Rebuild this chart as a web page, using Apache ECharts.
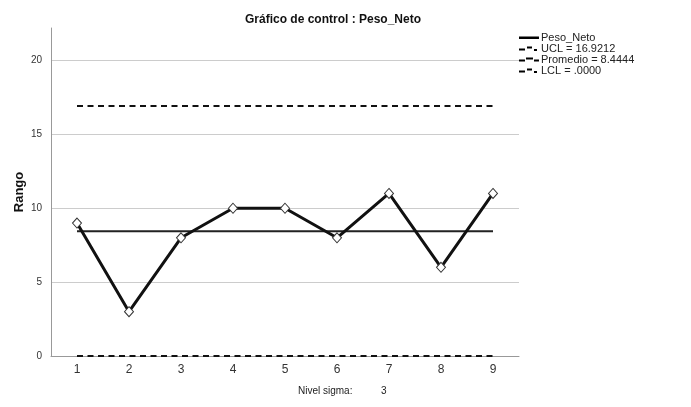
<!DOCTYPE html>
<html>
<head>
<meta charset="utf-8">
<script src="https://cdn.jsdelivr.net/npm/echarts@6/dist/echarts.min.js"></script>
<style>
  html, body { margin: 0; padding: 0; background: #fff; }
  #chart { width: 691px; height: 407px; }
</style>
</head>
<body>
<div id="chart"></div>
<script>
// subgroups and their range values
const categories = ['1', '2', '3', '4', '5', '6', '7', '8', '9']
const rango = [9, 3, 8, 10, 10, 8, 11, 6, 11]

// control limits
const UCL = 16.9212
const PROMEDIO = 8.4444
const LCL = 0

const yTicks = [0, 5, 10, 15, 20]
const sigmaLevel = 3

const font = 'Liberation Sans, Arial, sans-serif'
const flat = (v) => categories.map(() => v)

// small legend icons, padded with tiny corner dots so the box keeps its size
const pad = 'M0,0h0.01v0.01h-0.01z M20,10h0.01v0.01h-0.01z '
const iconSolid = 'path://' + pad + 'M0,4h20v2.4h-20z'
const iconDash = 'path://' + pad + 'M0,5h6v2h-6z M8,3h5v2h-5z M15,5.5h3v2h-3z'
const iconDashLong = 'path://' + pad + 'M0,5h6v2h-6z M7,3h7v2h-7z M15,5h5v2h-5z'

const chart = echarts.init(document.getElementById('chart'))

const option = {
    animation: false,
    backgroundColor: '#fff',
    title: {
        text: 'Gráfico de control : Peso_Neto',
        left: 328,
        textAlign: 'center',
        top: 9,
        textStyle: { fontFamily: font, fontSize: 12, fontWeight: 'bold', color: '#111' },
    },
    legend: {
        orient: 'vertical',
        left: 519,
        top: 32,
        padding: 0,
        itemWidth: 20,
        itemHeight: 10,
        itemGap: 0,
        textStyle: { fontFamily: font, fontSize: 11, color: '#222', lineHeight: 10, padding: [0, 0, 0, -3] },
        data: [
            { name: 'Peso_Neto', icon: iconSolid, itemStyle: { color: '#000', borderWidth: 0 } },
            { name: 'UCL = 16.9212', icon: iconDash, itemStyle: { color: '#000', borderWidth: 0 } },
            { name: 'Promedio = 8.4444', icon: iconDashLong, itemStyle: { color: '#000', borderWidth: 0 } },
            { name: 'LCL = .0000', icon: iconDash, itemStyle: { color: '#000', borderWidth: 0 } },
        ],
    },
    grid: { left: 51, right: 172, top: 28, bottom: 51 },
    xAxis: {
        type: 'category',
        data: categories,
        boundaryGap: true,
        axisLine: { lineStyle: { color: '#999', width: 1 } },
        axisTick: { show: false },
        axisLabel: { fontFamily: font, fontSize: 12, color: '#333', margin: 8 },
        splitLine: { show: false },
    },
    yAxis: {
        type: 'value',
        min: yTicks[0],
        max: 22.2,
        interval: 5,
        name: 'Rango',
        nameLocation: 'middle',
        nameGap: 25,
        nameMoveOverlap: false,
        nameTextStyle: { fontFamily: font, fontSize: 13, fontWeight: 'bold', color: '#111' },
        axisLine: { show: true, lineStyle: { color: '#999', width: 1 } },
        axisTick: { show: false },
        axisLabel: { fontFamily: font, fontSize: 10, color: '#333', margin: 9, showMaxLabel: false },
        splitLine: {
            lineStyle: { color: ['#999', '#ccc', '#ccc', '#ccc', '#ccc', 'transparent'], width: 1 },
        },
    },
    graphic: [
        {
            type: 'text',
            left: 298,
            top: 386,
            style: { text: 'Nivel sigma:', font: '10px ' + font, fill: '#222' },
        },
        {
            type: 'text',
            left: 381,
            top: 386,
            style: { text: String(sigmaLevel), font: '10px ' + font, fill: '#222' },
        },
    ],
    series: [
        {
            name: 'LCL = .0000',
            type: 'line',
            data: flat(LCL),
            symbol: 'none',
            lineStyle: { color: '#111', width: 2, type: [6, 4.5] },
            itemStyle: { color: '#111' },
            z: 3,
        },
        {
            name: 'UCL = 16.9212',
            type: 'line',
            data: flat(UCL),
            symbol: 'none',
            lineStyle: { color: '#111', width: 2, type: [6, 4.5] },
            itemStyle: { color: '#111' },
            z: 3,
        },
        {
            name: 'Promedio = 8.4444',
            type: 'line',
            data: flat(PROMEDIO),
            symbol: 'none',
            lineStyle: { color: '#222', width: 2 },
            itemStyle: { color: '#222' },
            z: 3,
        },
        {
            name: 'Peso_Neto',
            type: 'line',
            data: rango,
            symbol: 'diamond',
            symbolSize: [9, 10],
            showAllSymbol: true,
            lineStyle: { color: '#111', width: 3 },
            itemStyle: { color: '#fff', borderColor: '#333', borderWidth: 1 },
            z: 4,
        },
    ],
}

chart.setOption(option)
</script>
</body>
</html>
